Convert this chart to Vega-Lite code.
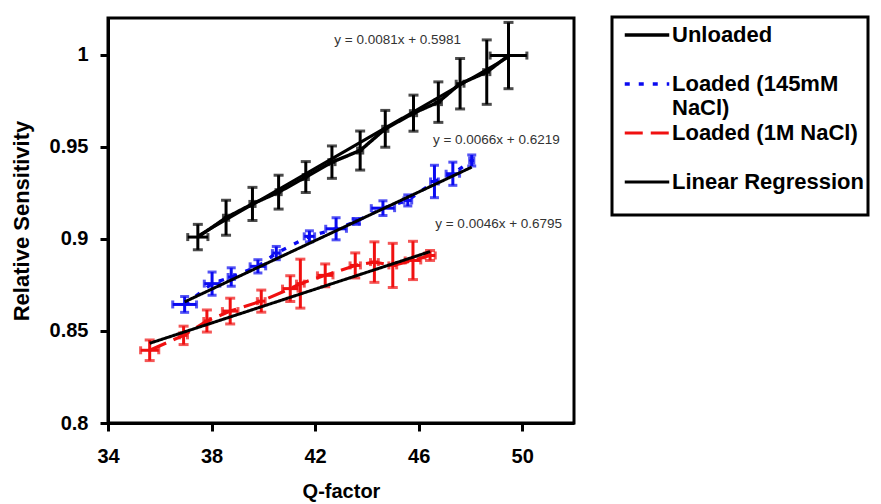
{
  "$schema": "https://vega.github.io/schema/vega-lite/v6.json",
  "width": 466,
  "height": 405,
  "autosize": {"type": "none"},
  "padding": {"left": 108, "top": 18, "right": 307, "bottom": 81},
  "background": "white",
  "config": {
    "view": {"stroke": "black", "strokeWidth": 3},
    "legend": {"strokeColor": "black", "strokeWidth": 3, "fillColor": "white"},
    "axis": {
      "grid": false,
      "labelFlush": false,
      "domainColor": "black",
      "domainWidth": 3,
      "tickColor": "black",
      "tickWidth": 3,
      "tickSize": 8,
      "labelFont": "Liberation Sans",
      "labelFontWeight": "bold",
      "labelFontSize": 20,
      "labelColor": "black",
      "titleFont": "Liberation Sans",
      "titleFontWeight": "bold",
      "titleFontSize": 22,
      "titleColor": "black"
    }
  },
  "datasets": {
    "pts": [
      {"series": "Unloaded", "x": 37.47, "y": 0.901, "xe": 0.39, "ye": 0.0069},
      {"series": "Unloaded", "x": 38.56, "y": 0.9115, "xe": 0.1, "ye": 0.0095},
      {"series": "Unloaded", "x": 39.58, "y": 0.919, "xe": 0.1, "ye": 0.009},
      {"series": "Unloaded", "x": 40.59, "y": 0.9254, "xe": 0.1, "ye": 0.0092},
      {"series": "Unloaded", "x": 41.64, "y": 0.9336, "xe": 0.1, "ye": 0.0084},
      {"series": "Unloaded", "x": 42.65, "y": 0.9417, "xe": 0.12, "ye": 0.0088},
      {"series": "Unloaded", "x": 43.74, "y": 0.948, "xe": 0.1, "ye": 0.0106},
      {"series": "Unloaded", "x": 44.71, "y": 0.9598, "xe": 0.1, "ye": 0.01},
      {"series": "Unloaded", "x": 45.8, "y": 0.9683, "xe": 0.12, "ye": 0.0098},
      {"series": "Unloaded", "x": 46.76, "y": 0.9743, "xe": 0.12, "ye": 0.011},
      {"series": "Unloaded", "x": 47.6, "y": 0.9843, "xe": 0.15, "ye": 0.0137},
      {"series": "Unloaded", "x": 48.63, "y": 0.9906, "xe": 0.12, "ye": 0.0175},
      {"series": "Unloaded", "x": 49.47, "y": 0.9996, "xe": 0.71, "ye": 0.018},
      {"series": "Loaded (145mM NaCl)", "x": 36.96, "y": 0.8644, "xe": 0.46, "ye": 0.0043},
      {"series": "Loaded (145mM NaCl)", "x": 38.02, "y": 0.8757, "xe": 0.3, "ye": 0.0063},
      {"series": "Loaded (145mM NaCl)", "x": 38.76, "y": 0.8793, "xe": 0.12, "ye": 0.005},
      {"series": "Loaded (145mM NaCl)", "x": 39.79, "y": 0.8851, "xe": 0.3, "ye": 0.0036},
      {"series": "Loaded (145mM NaCl)", "x": 40.5, "y": 0.8923, "xe": 0.15, "ye": 0.0036},
      {"series": "Loaded (145mM NaCl)", "x": 41.78, "y": 0.9014, "xe": 0.2, "ye": 0.003},
      {"series": "Loaded (145mM NaCl)", "x": 42.81, "y": 0.9055, "xe": 0.4, "ye": 0.006},
      {"series": "Loaded (145mM NaCl)", "x": 43.59, "y": 0.9095, "xe": 0.12, "ye": 0.0016},
      {"series": "Loaded (145mM NaCl)", "x": 44.62, "y": 0.9167, "xe": 0.45, "ye": 0.004},
      {"series": "Loaded (145mM NaCl)", "x": 45.58, "y": 0.9209, "xe": 0.15, "ye": 0.003},
      {"series": "Loaded (145mM NaCl)", "x": 46.61, "y": 0.9312, "xe": 0.15, "ye": 0.0088},
      {"series": "Loaded (145mM NaCl)", "x": 47.32, "y": 0.9354, "xe": 0.26, "ye": 0.0063},
      {"series": "Loaded (145mM NaCl)", "x": 48.05, "y": 0.9426, "xe": 0.08, "ye": 0.003},
      {"series": "Loaded (1M NaCl)", "x": 35.61, "y": 0.8395, "xe": 0.35, "ye": 0.0056},
      {"series": "Loaded (1M NaCl)", "x": 36.92, "y": 0.8476, "xe": 0.15, "ye": 0.005},
      {"series": "Loaded (1M NaCl)", "x": 37.82, "y": 0.8554, "xe": 0.12, "ye": 0.006},
      {"series": "Loaded (1M NaCl)", "x": 38.72, "y": 0.8608, "xe": 0.3, "ye": 0.007},
      {"series": "Loaded (1M NaCl)", "x": 39.92, "y": 0.8662, "xe": 0.15, "ye": 0.006},
      {"series": "Loaded (1M NaCl)", "x": 41.04, "y": 0.873, "xe": 0.3, "ye": 0.007},
      {"series": "Loaded (1M NaCl)", "x": 41.43, "y": 0.8757, "xe": 0.15, "ye": 0.0133},
      {"series": "Loaded (1M NaCl)", "x": 42.39, "y": 0.8802, "xe": 0.3, "ye": 0.0062},
      {"series": "Loaded (1M NaCl)", "x": 43.55, "y": 0.8856, "xe": 0.2, "ye": 0.0068},
      {"series": "Loaded (1M NaCl)", "x": 44.29, "y": 0.8874, "xe": 0.15, "ye": 0.011},
      {"series": "Loaded (1M NaCl)", "x": 45.0, "y": 0.8856, "xe": 0.15, "ye": 0.012},
      {"series": "Loaded (1M NaCl)", "x": 45.78, "y": 0.8883, "xe": 0.3, "ye": 0.0104},
      {"series": "Loaded (1M NaCl)", "x": 46.44, "y": 0.891, "xe": 0.2, "ye": 0.0027}
    ],
    "reg": [
      {"series": "Linear Regression", "group": "Unloaded", "x": 37.47, "y": 0.9016},
      {"series": "Linear Regression", "group": "Unloaded", "x": 49.47, "y": 0.9988},
      {"series": "Linear Regression", "group": "145mM", "x": 36.96, "y": 0.8658},
      {"series": "Linear Regression", "group": "145mM", "x": 48.05, "y": 0.939},
      {"series": "Linear Regression", "group": "1M", "x": 35.61, "y": 0.8433},
      {"series": "Linear Regression", "group": "1M", "x": 46.44, "y": 0.8931}
    ],
    "ann": [
      {"x": 42.74, "y": 1.0078, "label": "y = 0.0081x + 0.5981"},
      {"x": 46.55, "y": 0.954, "label": "y = 0.0066x + 0.6219"},
      {"x": 46.64, "y": 0.9082, "label": "y = 0.0046x + 0.6795"}
    ]
  },
  "layer": [
    {
      "data": {"name": "pts"},
      "mark": {"type": "line", "strokeCap": "butt"},
      "encoding": {
        "x": {"field": "x", "type": "quantitative", "title": "Q-factor",
              "scale": {"domain": [34, 52], "nice": false, "zero": false},
              "axis": {"values": [34, 38, 42, 46, 50], "labelPadding": 15, "titlePadding": 15, "titleFontSize": 20}},
        "y": {"field": "y", "type": "quantitative", "title": "Relative Sensitivity",
              "scale": {"domain": [0.8, 1.02], "nice": false, "zero": false},
              "axis": {"values": [0.8, 0.85, 0.9, 0.95, 1], "format": ".2~f", "labelPadding": 12, "titlePadding": 16}},
        "color": {"field": "series", "type": "nominal",
                  "scale": {"domain": ["Unloaded", "Loaded (145mM NaCl)", "Loaded (1M NaCl)", "Linear Regression"],
                            "range": ["black", "#0a0af0", "#f01010", "black"]},
                  "legend": {"title": " ", "titleOrient": "bottom", "titleFontSize": 14, "titlePadding": 1,
                             "orient": "none", "legendX": 504, "legendY": -1,
                             "padding": 4, "clipHeight": 28, "rowPadding": 0, "gridAlign": "all", "symbolOffset": 7,
                             "labelFont": "Liberation Sans", "labelFontWeight": "bold", "labelFontSize": 22,
                             "labelColor": "black", "symbolSize": 1980, "labelOffset": 1, "labelLimit": 300,
                             "labelExpr": "datum.label == 'Loaded (145mM NaCl)' ? ['Loaded (145mM', 'NaCl)'] : datum.label"}},
        "strokeDash": {"field": "series", "type": "nominal",
                       "scale": {"domain": ["Unloaded", "Loaded (145mM NaCl)", "Loaded (1M NaCl)", "Linear Regression"],
                                 "range": [[1, 0], [5, 9], [18, 8], [1, 0]]},
                       "legend": {"title": " "}},
        "strokeWidth": {"field": "series", "type": "nominal",
                        "scale": {"domain": ["Unloaded", "Loaded (145mM NaCl)", "Loaded (1M NaCl)", "Linear Regression"],
                                  "range": [3.5, 3, 3, 1.5]},
                        "legend": {"title": " "}}
      }
    },
    {
      "data": {"name": "pts"},
      "transform": [{"filter": "datum.series == 'Unloaded'"}],
      "mark": {"type": "errorbar", "ticks": true, "color": "black", "thickness": 3, "size": 10},
      "encoding": {
        "x": {"field": "x", "type": "quantitative", "title": "Q-factor"},
        "y": {"field": "y", "type": "quantitative", "title": "Relative Sensitivity"},
        "yError": {"field": "ye"}
      }
    },
    {
      "data": {"name": "pts"},
      "transform": [{"filter": "datum.series == 'Unloaded'"}],
      "mark": {"type": "errorbar", "ticks": true, "color": "black", "thickness": 3, "size": 8},
      "encoding": {
        "x": {"field": "x", "type": "quantitative", "title": "Q-factor"},
        "y": {"field": "y", "type": "quantitative", "title": "Relative Sensitivity"},
        "xError": {"field": "xe"}
      }
    },
    {
      "data": {"name": "pts"},
      "transform": [{"filter": "datum.series == 'Loaded (145mM NaCl)'"}],
      "mark": {"type": "errorbar", "ticks": true, "color": "#0a0af0", "thickness": 3, "size": 9},
      "encoding": {
        "x": {"field": "x", "type": "quantitative", "title": "Q-factor"},
        "y": {"field": "y", "type": "quantitative", "title": "Relative Sensitivity"},
        "yError": {"field": "ye"}
      }
    },
    {
      "data": {"name": "pts"},
      "transform": [{"filter": "datum.series == 'Loaded (145mM NaCl)'"}],
      "mark": {"type": "errorbar", "ticks": true, "color": "#0a0af0", "thickness": 3, "size": 8},
      "encoding": {
        "x": {"field": "x", "type": "quantitative", "title": "Q-factor"},
        "y": {"field": "y", "type": "quantitative", "title": "Relative Sensitivity"},
        "xError": {"field": "xe"}
      }
    },
    {
      "data": {"name": "pts"},
      "transform": [{"filter": "datum.series == 'Loaded (1M NaCl)'"}],
      "mark": {"type": "errorbar", "ticks": true, "color": "#f01010", "thickness": 3, "size": 10},
      "encoding": {
        "x": {"field": "x", "type": "quantitative", "title": "Q-factor"},
        "y": {"field": "y", "type": "quantitative", "title": "Relative Sensitivity"},
        "yError": {"field": "ye"}
      }
    },
    {
      "data": {"name": "pts"},
      "transform": [{"filter": "datum.series == 'Loaded (1M NaCl)'"}],
      "mark": {"type": "errorbar", "ticks": true, "color": "#f01010", "thickness": 3, "size": 8},
      "encoding": {
        "x": {"field": "x", "type": "quantitative", "title": "Q-factor"},
        "y": {"field": "y", "type": "quantitative", "title": "Relative Sensitivity"},
        "xError": {"field": "xe"}
      }
    },
    {
      "data": {"name": "reg"},
      "mark": {"type": "line"},
      "encoding": {
        "x": {"field": "x", "type": "quantitative", "title": "Q-factor"},
        "y": {"field": "y", "type": "quantitative", "title": "Relative Sensitivity"},
        "detail": {"field": "group"},
        "color": {"field": "series", "type": "nominal"},
        "strokeDash": {"field": "series", "type": "nominal"},
        "strokeWidth": {"field": "series", "type": "nominal"}
      }
    },
    {
      "data": {"name": "ann"},
      "mark": {"type": "text", "align": "left", "baseline": "middle", "font": "Liberation Sans", "fontSize": 13.5, "color": "#333333"},
      "encoding": {
        "x": {"field": "x", "type": "quantitative", "title": "Q-factor"},
        "y": {"field": "y", "type": "quantitative", "title": "Relative Sensitivity"},
        "text": {"field": "label"}
      }
    }
  ]
}
